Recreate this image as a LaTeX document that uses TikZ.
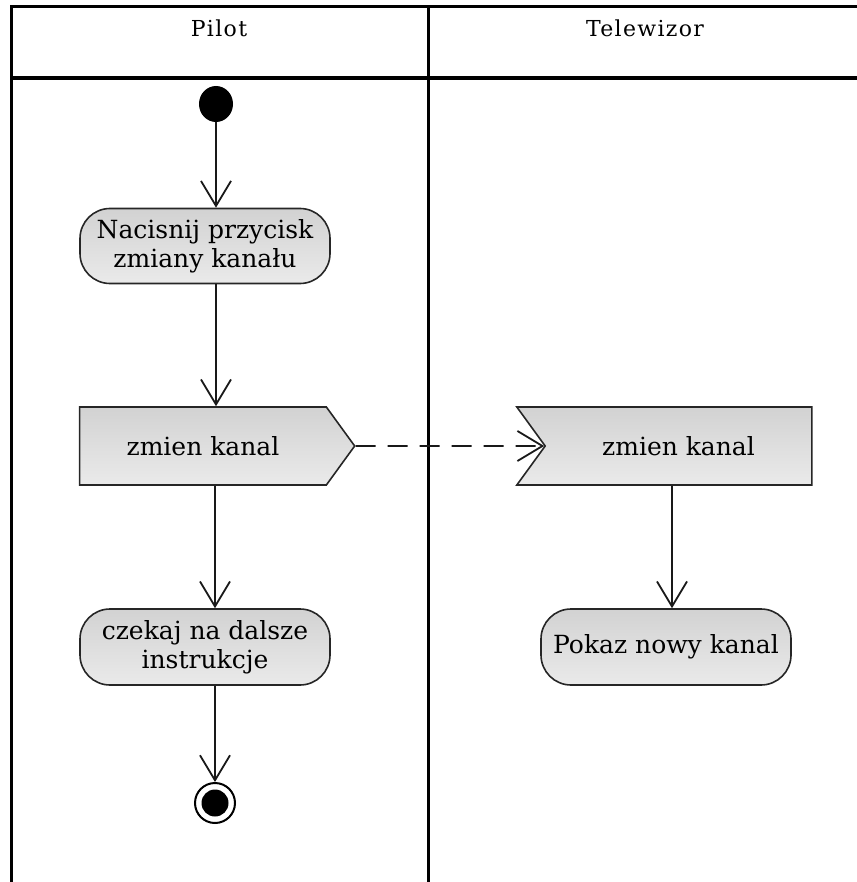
\documentclass[tikz,border=0pt]{standalone}
\usepackage{fontspec}
\setmainfont{DejaVu Serif}
\newfontfamily\headfont[LetterSpace=6]{DejaVu Serif}
\usetikzlibrary{arrows.meta,shapes.symbols,shapes.misc,shapes.geometric}
\definecolor{filltop}{HTML}{D2D2D2}
\definecolor{fillbot}{HTML}{EAEAEA}
\begin{document}
\begin{tikzpicture}[x=1pt,y=-1pt,
  lane/.style={line width=3pt,black},
  head/.style={font=\headfont\fontsize{22}{26}\selectfont},
  actbox/.style={draw=black!85,line width=1.6pt,rectangle,rounded corners=30pt,
    top color=filltop,bottom color=fillbot,align=center,
    font=\fontsize{25}{29}\selectfont,inner sep=1pt},
  sendsig/.style={draw=black!85,line width=1.6pt,signal,signal to=east,signal pointer angle=108,
    top color=filltop,bottom color=fillbot,font=\fontsize{25}{29}\selectfont,
    minimum width=275pt,minimum height=78pt,inner sep=0pt},
  recvsig/.style={draw=black!85,line width=1.6pt,signal,signal from=west,signal to=nowhere,signal pointer angle=108,
    top color=filltop,bottom color=fillbot,font=\fontsize{25}{29}\selectfont,
    minimum width=295pt,minimum height=78pt,inner sep=0pt},
  flow/.style={line width=1.8pt,black!90,-{Straight Barb[length=25pt,width=30pt,line width=1.8pt]}},
  sigflow/.style={flow,dash pattern=on 20pt off 12pt}
]
\useasboundingbox (0,0) rectangle (856,882);
% swimlanes
\draw[lane] (11,882) -- (11,7) -- (857,7);
\draw[lane] (428,7) -- (428,882);
\draw[line width=4.5pt] (11,78) -- (857,78);
\node[head] (pilot) at (219,28) {Pilot};
\node[head] (tv) at (645,28) {Telewizor};
% nodes
\node[ellipse,fill=black,minimum width=34pt,minimum height=36pt,inner sep=0pt] (start) at (216,104) {};
\node[actbox,minimum width=250pt,minimum height=75pt] (a1) at (205,246) {Nacisnij przycisk\\zmiany kanału};
\node[sendsig] (send) at (203,446) {zmien kanal};
\node[recvsig] (recv) at (678.5,446) {zmien kanal};
\node[actbox,minimum width=250pt,minimum height=76pt] (a3) at (205,647) {czekaj na dalsze\\instrukcje};
\node[actbox,minimum width=250pt,minimum height=76pt] (a4) at (666,647) {Pokaz nowy kanal};
\node[circle,draw=black,line width=2pt,minimum size=40pt,inner sep=0pt] (end) at (215,803) {};
\node[circle,fill=black,minimum size=27pt,inner sep=0pt] (endin) at (end.center) {};
% connectors
\draw[flow] (start.south) -- (start.south |- a1.north);
\draw[flow] (start.south |- a1.south) -- (start.south |- send.north);
\draw[flow] (end.north |- send.south) -- (end.north |- a3.north);
\draw[sigflow] (send.east) -- (recv);
\draw[flow] ([xshift=6pt]a4.north |- recv.south) -- ([xshift=6pt]a4.north);
\draw[flow] (end.north |- a3.south) -- (end.north);
\end{tikzpicture}
\end{document}
